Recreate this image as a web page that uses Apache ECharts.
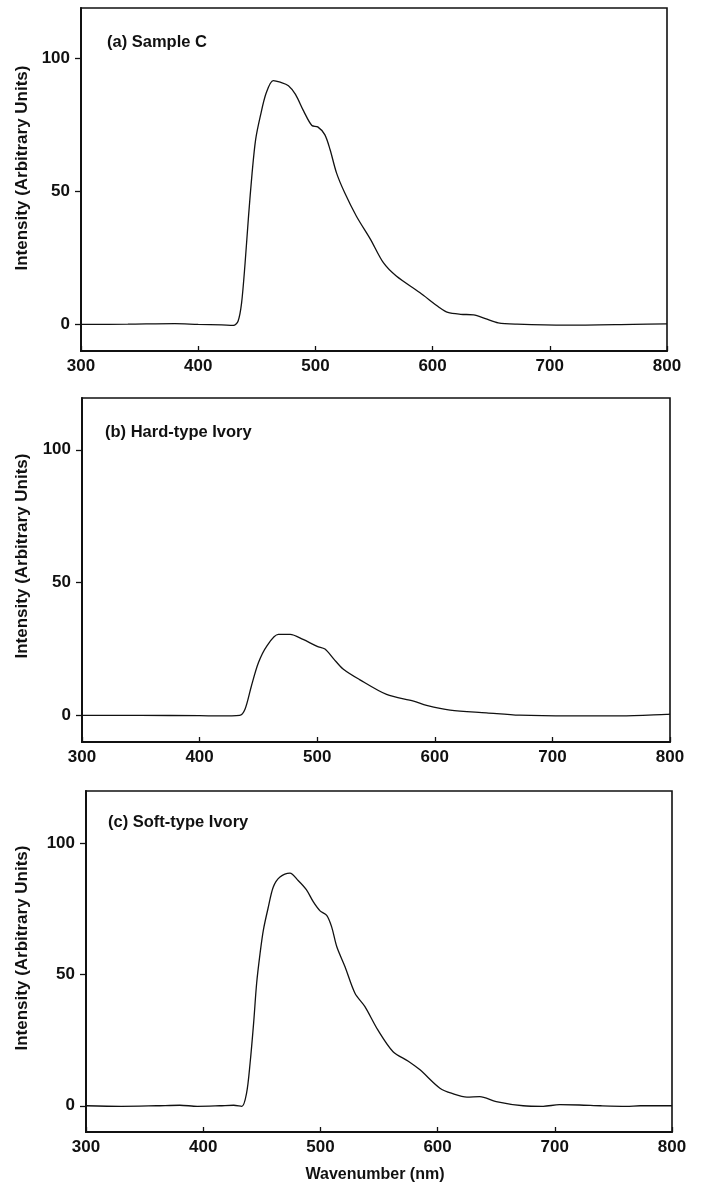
<!DOCTYPE html>
<html>
<head>
<meta charset="utf-8">
<script src="https://cdn.jsdelivr.net/npm/echarts@6/dist/echarts.min.js"></script>
<style>
html,body{margin:0;padding:0;background:#fff;}
#chart{width:702px;height:1186px;}
</style>
</head>
<body>
<div id="chart"></div>
<script>
// ---- data ----
var panelTitles = ['(a) Sample C', '(b) Hard-type Ivory', '(c) Soft-type Ivory'];
var xTickValues = [300, 400, 500, 600, 700, 800];
var yTickValues = [0, 50, 100];
var yAxisTitle = 'Intensity (Arbitrary Units)';
var xAxisTitle = 'Wavenumber (nm)';

var waveA = [300, 340, 380, 400, 420, 430, 434, 437, 440, 443, 446, 449, 453, 458, 464, 470, 477, 483, 490, 497, 502, 508, 512.5, 518, 525, 535, 547, 558, 569, 589, 606, 613, 624, 635, 645, 656, 672, 714, 771, 800];
var intA  = [0, 0.1, 0.3, 0, -0.2, -0.4, 1.2, 8, 23, 41, 57, 69.5, 78.3, 87, 91.7, 91.1, 89.8, 86.5, 80.2, 74.8, 74.3, 71.4, 65.8, 57, 49.5, 40.7, 32, 23.2, 18.2, 12, 6.3, 4.5, 3.8, 3.6, 2.2, 0.6, 0.1, -0.3, 0, 0.2];

var waveB = [300, 350, 400, 417, 434, 438.6, 444, 450, 457, 467, 477, 488, 500, 506.6, 514, 522, 536, 559, 582, 593, 613, 644, 672, 715, 758, 797, 800];
var intB  = [0, 0, -0.1, -0.2, 0, 2.3, 11, 19.8, 26, 30.5, 30.5, 28.6, 26, 25, 21.3, 17.5, 13.5, 7.9, 5.4, 3.8, 2, 1, 0.1, -0.2, -0.2, 0.4, 0.5];

var waveC = [300, 330, 360, 380, 395, 414, 426, 433, 437, 440, 443, 445.6, 448.5, 451.3, 455.6, 459.8, 465.5, 474, 481, 488, 494, 499.7, 505.4, 509.6, 514, 521, 529.5, 538, 549, 562, 575, 585, 602, 613, 625, 636, 650, 673, 690, 704, 721, 739, 761, 773, 800];
var intC  = [0, -0.2, 0, 0.2, -0.2, 0, 0.2, -0.2, 4.8, 16.2, 31.4, 46.7, 58, 66.9, 75.8, 83.4, 87.2, 88.7, 85.9, 82.4, 77.7, 74.3, 72.6, 68.2, 60.6, 53, 42.9, 37.8, 28.9, 20.6, 17, 13.7, 6.7, 4.6, 3.3, 3.5, 1.6, 0, -0.2, 0.4, 0.3, 0, -0.2, 0, 0];

function pairs(xs, ys) { return xs.map(function (x, i) { return [x, ys[i]]; }); }
var seriesData = [pairs(waveA, intA), pairs(waveB, intB), pairs(waveC, intC)];

// ---- layout ----
var FONT = '"Liberation Sans", Arial, sans-serif';
var grids = [
  {left: 81, right: 35, top: 8,   height: 343},
  {left: 82, right: 32, top: 398, height: 344},
  {left: 86, right: 30, top: 791, height: 341}
];
var yMaxes = [119, 119.5, 120];
var titlePos = [[107, 42], [105, 432], [108, 822]];
var yTitlePos = [[22, 168], [22, 556], [22, 948]];

var option = {
  backgroundColor: '#fff',
  animation: false,
  grid: grids.map(function (g) {
    return {left: g.left, right: g.right, top: g.top, height: g.height,
            show: true, borderColor: '#111', borderWidth: 1.6, backgroundColor: 'transparent'};
  }),
  xAxis: grids.map(function (g, i) {
    return {
      type: 'value', gridIndex: i, min: 300, max: 800, interval: 100,
      axisLine: {show: true, onZero: false, lineStyle: {color: '#111', width: 2}},
      axisTick: {show: true, inside: true, length: 5, lineStyle: {color: '#111', width: 1.3}},
      axisLabel: {show: true, margin: 7, color: '#111', fontFamily: FONT, fontWeight: 'bold', fontSize: 17,
                  customValues: xTickValues},
      splitLine: {show: false}
    };
  }),
  yAxis: grids.map(function (g, i) {
    return {
      type: 'value', gridIndex: i, min: -10, max: yMaxes[i],
      axisLine: {show: true, onZero: false, lineStyle: {color: '#111', width: 2}},
      axisTick: {show: true, inside: false, length: 6, customValues: yTickValues, lineStyle: {color: '#111', width: 1.3}},
      axisLabel: {show: true, margin: 11, color: '#111', fontFamily: FONT, fontWeight: 'bold', fontSize: 17,
                  customValues: yTickValues},
      splitLine: {show: false}
    };
  }),
  series: seriesData.map(function (d, i) {
    return {
      type: 'line', xAxisIndex: i, yAxisIndex: i, data: d,
      showSymbol: false, smooth: 0.3, clip: true,
      lineStyle: {color: '#111', width: 1.3}
    };
  }),
  graphic: []
};

panelTitles.forEach(function (t, i) {
  option.graphic.push({
    type: 'text', x: titlePos[i][0], y: titlePos[i][1],
    style: {text: t, fill: '#111', font: 'bold 16.5px ' + FONT, textAlign: 'left', textVerticalAlign: 'middle'}
  });
  option.graphic.push({
    type: 'text', x: yTitlePos[i][0], y: yTitlePos[i][1], rotation: Math.PI / 2,
    style: {text: yAxisTitle, fill: '#111', font: 'bold 17px ' + FONT, textAlign: 'center', textVerticalAlign: 'middle'}
  });
});
option.graphic.push({
  type: 'text', x: 375, y: 1175,
  style: {text: xAxisTitle, fill: '#111', font: 'bold 16px ' + FONT, textAlign: 'center', textVerticalAlign: 'middle'}
});

var chart = echarts.init(document.getElementById('chart'), null, {renderer: 'canvas'});
chart.setOption(option);
</script>
</body>
</html>
